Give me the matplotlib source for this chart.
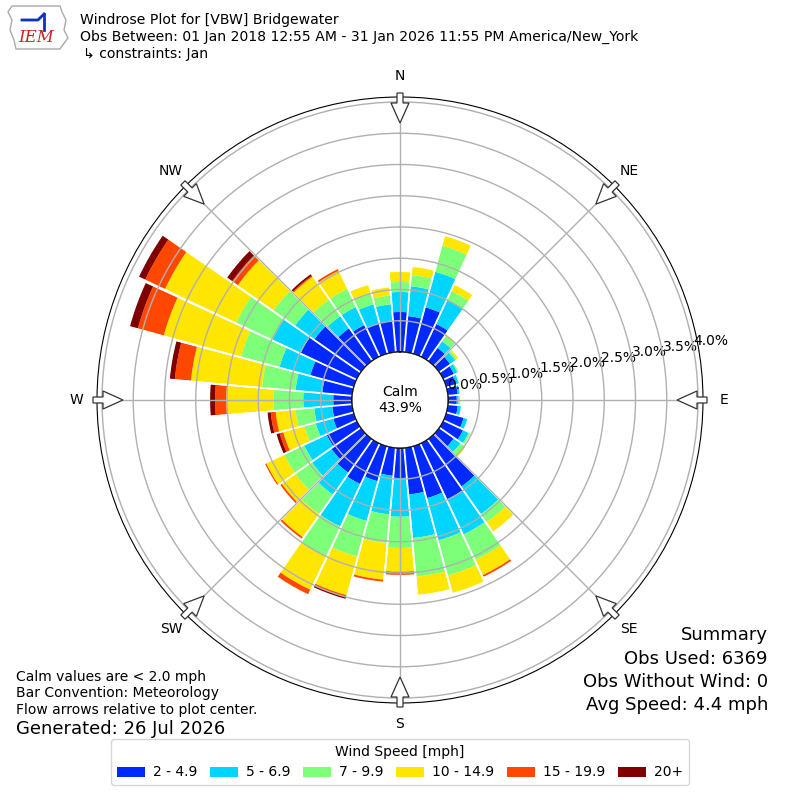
import numpy as np
import matplotlib
matplotlib.use('Agg')
import matplotlib.pyplot as plt
from matplotlib.patches import Circle, FancyArrow, Polygon

# Wind direction bins (deg, meteorological) and percent of obs per speed class
directions = [0, 10, 20, 30, 40, 50, 60, 70, 80, 90, 100, 110,
              120, 130, 140, 150, 160, 170, 180, 190, 200, 210, 220, 230,
              240, 250, 260, 270, 280, 290, 300, 310, 320, 330, 340, 350]

speed_labels = ['2 - 4.9', '5 - 6.9', '7 - 9.9', '10 - 14.9', '15 - 19.9', '20+']

pct_2_5 = [0.64, 0.58, 0.77, 0.58, 0.26, 0.22, 0.19, 0.16, 0.16, 0.14, 0.16, 0.29,
           0.35, 0.29, 0.93, 0.99, 0.86, 0.75, 0.48, 0.45, 0.58, 0.72, 0.66, 0.58,
           0.53, 0.34, 0.32, 0.30, 0.48, 0.72, 0.99, 0.91, 0.64, 0.56, 0.50, 0.51]
pct_5_7 = [0.32, 0.48, 0.59, 0.42, 0.13, 0.10, 0.06, 0.05, 0.03, 0.03, 0.05, 0.06,
           0.10, 0.13, 0.54, 0.62, 0.70, 0.70, 0.62, 0.62, 0.66, 0.75, 0.43, 0.38,
           0.40, 0.29, 0.29, 0.48, 0.43, 0.51, 0.50, 0.38, 0.24, 0.32, 0.32, 0.26]
pct_7_10 = [0.16, 0.18, 0.43, 0.16, 0.10, 0.03, 0.02, 0.00, 0.00, 0.02, 0.00, 0.00,
            0.03, 0.08, 0.16, 0.45, 0.58, 0.62, 0.50, 0.46, 0.59, 0.54, 0.38, 0.32,
            0.35, 0.19, 0.30, 0.48, 0.54, 0.64, 0.64, 0.42, 0.32, 0.32, 0.19, 0.14]
pct_10_15 = [0.16, 0.13, 0.16, 0.11, 0.02, 0.03, 0.00, 0.00, 0.00, 0.00, 0.00, 0.00,
             0.00, 0.02, 0.18, 0.27, 0.29, 0.29, 0.38, 0.59, 0.64, 0.58, 0.45, 0.27,
             0.32, 0.35, 0.32, 0.75, 1.14, 1.28, 1.26, 0.70, 0.45, 0.32, 0.13, 0.13]
pct_15_20 = [0.00, 0.00, 0.00, 0.00, 0.00, 0.00, 0.00, 0.00, 0.00, 0.00, 0.00, 0.00,
             0.00, 0.00, 0.00, 0.03, 0.00, 0.00, 0.05, 0.03, 0.03, 0.08, 0.03, 0.03,
             0.02, 0.06, 0.08, 0.18, 0.26, 0.43, 0.35, 0.11, 0.02, 0.03, 0.00, 0.00]
pct_20p = [0.00, 0.00, 0.00, 0.00, 0.00, 0.00, 0.00, 0.00, 0.00, 0.00, 0.00, 0.00,
           0.00, 0.00, 0.00, 0.00, 0.00, 0.00, 0.00, 0.00, 0.03, 0.00, 0.00, 0.00,
           0.00, 0.05, 0.05, 0.08, 0.08, 0.13, 0.11, 0.10, 0.03, 0.00, 0.00, 0.00]

calm_pct = 43.9
r_ticks = [0.0, 0.5, 1.0, 1.5, 2.0, 2.5, 3.0, 3.5, 4.0]
compass = ['N', 'NE', 'E', 'SE', 'S', 'SW', 'W', 'NW']

series = [pct_2_5, pct_5_7, pct_7_10, pct_10_15, pct_15_20, pct_20p]
colors = plt.cm.jet(np.arange(1, 7) / 6.0)

fig = plt.figure(figsize=(8, 8), dpi=100)
ax = fig.add_axes([0.12125, 0.12125, 0.7575, 0.7575], projection='polar')
ax.set_theta_zero_location('N')
ax.set_theta_direction(-1)

theta = np.deg2rad(directions)
width = np.deg2rad(9.4)
base = np.zeros(len(directions))
for vals, color, label in zip(series, colors, speed_labels):
    vals = np.array(vals)
    ax.bar(theta, vals, width=width, bottom=base, color=color,
           linewidth=0, label=label, zorder=1)
    base = base + vals

# thin white separators between sectors
for d in directions:
    t = np.deg2rad(d + 5)
    ax.plot([t, t], [0, 4.08], color='white', lw=1.3, zorder=1.2)

ax.set_rorigin(-0.768)
ax.set_ylim(0, 4.08)
ax.set_yticks(r_ticks)
ax.set_yticklabels(['%.1f%%' % v for v in r_ticks], fontsize=10)
ax.set_rlabel_position(80)
ax.set_xticks(np.deg2rad(np.arange(0, 360, 45)))
ax.set_xticklabels(compass, fontsize=10)
ax.tick_params(axis='x', pad=4.6)
ax.grid(True, color='#b0b0b0', lw=1)

# calm circle in the middle
calm = Circle((0.5, 0.5), 48 / 606, transform=ax.transAxes, facecolor='white',
              edgecolor='black', lw=1, zorder=4)
ax.add_patch(calm)
ax.text(0.5, 0.5, 'Calm\n%.1f%%' % calm_pct, transform=ax.transAxes,
        ha='center', va='center', fontsize=10, zorder=5)

# flow arrows pointing at the center
for ang in range(0, 360, 45):
    a = np.deg2rad(ang)
    r_out, r_in = 307 / 606, 277 / 606
    arr = FancyArrow(0.5 + r_out * np.sin(a), 0.5 + r_out * np.cos(a),
                     -(r_out - r_in) * np.sin(a), -(r_out - r_in) * np.cos(a),
                     width=6 / 606, head_width=18 / 606, head_length=20 / 606,
                     length_includes_head=True, transform=ax.transAxes,
                     facecolor='white', edgecolor='#333333', lw=0.9,
                     clip_on=False, zorder=6)
    ax.add_patch(arr)

# header
fig.text(0.1, 1 - 20 / 800, 'Windrose Plot for [VBW] Bridgewater', fontsize=10.1, va='center')
fig.text(0.1, 1 - 37 / 800,
         'Obs Between: 01 Jan 2018 12:55 AM - 31 Jan 2026 11:55 PM America/New_York',
         fontsize=10.1, va='center')
fig.text(0.104, 1 - 54 / 800, '\u21b3 constraints: Jan', fontsize=10.1, va='center')

# rough IEM logo
logo = fig.add_axes([0.0, 0.935, 0.09, 0.065])
logo.set_xlim(0, 72)
logo.set_ylim(52, 0)
logo.axis('off')
logo.add_patch(Polygon([(12, 6), (60, 6), (62, 12), (66, 20), (64, 30), (68, 38),
                        (62, 46), (60, 49), (16, 49), (14, 40), (10, 30), (12, 20), (8, 12)],
                       closed=True, fill=False, edgecolor='#aaaaaa', lw=1))
logo.text(36, 38, 'IEM', color='#cc2222', fontsize=12, family='serif',
          style='italic', ha='center', va='center')
logo.plot([22, 38, 44], [20, 20, 14], color='#1030c0', lw=2)
logo.plot([44, 44], [14, 30], color='#1030c0', lw=2)

# notes bottom left
fig.text(0.02, 1 - 677 / 800, 'Calm values are < 2.0 mph', fontsize=10, va='center')
fig.text(0.02, 1 - 693 / 800, 'Bar Convention: Meteorology', fontsize=10, va='center')
fig.text(0.02, 1 - 710 / 800, 'Flow arrows relative to plot center.', fontsize=10, va='center')
fig.text(0.02, 1 - 729 / 800, 'Generated: 26 Jul 2026', fontsize=13, va='center')

# summary bottom right
summary = ['Summary', 'Obs Used: 6369', 'Obs Without Wind: 0', 'Avg Speed: 4.4 mph']
for i, line in enumerate(summary):
    fig.text(0.96, 1 - (635 + i * 23.5) / 800, line, fontsize=13, ha='right', va='center')

handles, labels = ax.get_legend_handles_labels()
fig.legend(handles, labels, loc='lower center', bbox_to_anchor=(0.5, 0.01), ncol=6,
           fontsize=10, title='Wind Speed [mph]', title_fontsize=10,
           columnspacing=0.9, handletextpad=0.6)

fig.savefig('out.png', dpi=100)
